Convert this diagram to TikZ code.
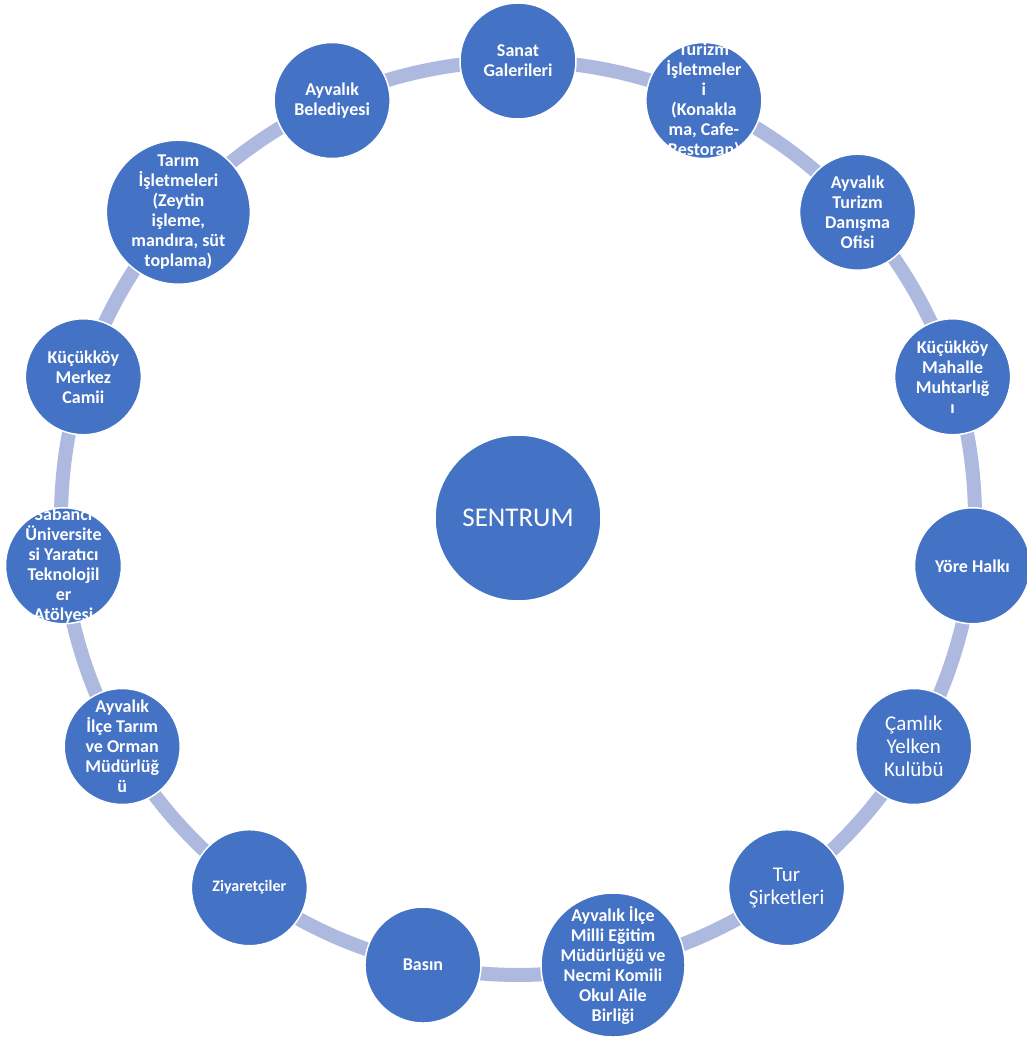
\documentclass[tikz,border=0pt]{standalone}
\usepackage{fontspec}
\setmainfont{Carlito}
\usetikzlibrary{backgrounds}
\definecolor{nodeblue}{RGB}{68,114,196}
\definecolor{ringblue}{RGB}{173,185,223}
\begin{document}
\begin{tikzpicture}[x=1pt,y=1pt,
  member/.style={circle, fill=nodeblue, draw=white, line width=1.5pt, minimum size=116pt, inner sep=0pt},
  bigmember/.style={member, minimum size=144pt},
  hub/.style={member, minimum size=166pt, text=white, font=\fontsize{27}{30}\selectfont},
  txt/.style={text=white, align=center, inner sep=0pt, font=\fontsize{18}{20}\selectfont\bfseries},
  smalltxt/.style={txt, font=\fontsize{16}{19}\selectfont\bfseries},
  lighttxt/.style={txt, font=\fontsize{21}{23}\selectfont},
  arcseg/.style={bend left=12, looseness=0.86},
  ringline/.style={draw=ringblue, line width=14pt}]
\useasboundingbox (-518,-523) rectangle (508,518);
\def\R{457}
\node[hub] (hub) at (0,0) {SENTRUM};
\node[member, label={[txt]center:{Sanat\\Galerileri}}] (n1) at (90:\R) {};
\node[member, label={[txt]center:{Turizm\\İşletmeler\\i\\(Konakla\\ma, Cafe-\\Restoran)}}] (n2) at (66:\R) {};
\node[member, label={[txt]center:{Ayvalık\\Turizm\\Danışma\\Ofisi}}] (n3) at (42:\R) {};
\node[member, label={[txt]center:{Küçükköy\\Mahalle\\Muhtarlığ\\ı}}] (n4) at (18:\R) {};
\node[member, label={[txt]center:{Yöre Halkı}}] (n5) at (-6:\R) {};
\node[member, label={[lighttxt]center:{Çamlık\\Yelken\\Kulübü}}] (n6) at (-30:\R) {};
\node[member, label={[lighttxt]center:{Tur\\Şirketleri}}] (n7) at (-54:\R) {};
\node[bigmember, label={[txt]center:{Ayvalık İlçe\\Milli Eğitim\\Müdürlüğü ve\\Necmi Komili\\Okul Aile\\Birliği}}] (n8) at (-78:\R) {};
\node[member, label={[txt]center:{Basın}}] (n9) at (-102:\R) {};
\node[member, label={[smalltxt]center:{Ziyaretçiler}}] (n10) at (-126:\R) {};
\node[member, label={[txt]center:{Ayvalık\\İlçe Tarım\\ve Orman\\Müdürlüğ\\ü}}] (n11) at (-150:\R) {};
\node[member, label={[txt]center:{Sabancı\\Üniversite\\si Yaratıcı\\Teknolojil\\er\\Atölyesi}}] (n12) at (-174:\R) {};
\node[member, label={[txt]center:{Küçükköy\\Merkez\\Camii}}] (n13) at (162:\R) {};
\node[bigmember, label={[txt]center:{Tarım\\İşletmeleri\\(Zeytin\\işleme,\\mandıra, süt\\toplama)}}] (n14) at (138:\R) {};
\node[member, label={[txt]center:{Ayvalık\\Belediyesi}}] (n15) at (114:\R) {};
\begin{scope}[on background layer]
  \fill[white] (-518,-523) rectangle (508,518);
  \draw[ringline] (n1.center) to[arcseg] (n2.center);
  \draw[ringline] (n2.center) to[arcseg] (n3.center);
  \draw[ringline] (n3.center) to[arcseg] (n4.center);
  \draw[ringline] (n4.center) to[arcseg] (n5.center);
  \draw[ringline] (n5.center) to[arcseg] (n6.center);
  \draw[ringline] (n6.center) to[arcseg] (n7.center);
  \draw[ringline] (n7.center) to[arcseg] (n8.center);
  \draw[ringline] (n8.center) to[arcseg] (n9.center);
  \draw[ringline] (n9.center) to[arcseg] (n10.center);
  \draw[ringline] (n10.center) to[arcseg] (n11.center);
  \draw[ringline] (n11.center) to[arcseg] (n12.center);
  \draw[ringline] (n12.center) to[arcseg] (n13.center);
  \draw[ringline] (n13.center) to[arcseg] (n14.center);
  \draw[ringline] (n14.center) to[arcseg] (n15.center);
  \draw[ringline] (n15.center) to[arcseg] (n1.center);
\end{scope}
\end{tikzpicture}
\end{document}
